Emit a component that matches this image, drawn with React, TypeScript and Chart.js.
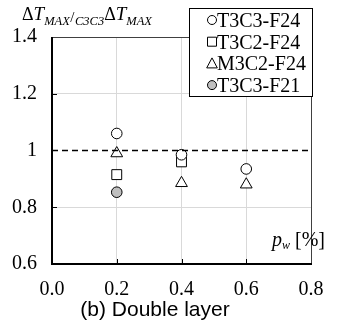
import { useEffect, useRef } from 'react';
import { Chart, registerables } from 'chart.js';
Chart.register(...registerables);

const seriesNames = ['T3C3-F24', 'T3C2-F24', 'M3C2-F24', 'T3C3-F21'];
const t3c3F24X = [0.2, 0.4, 0.6];
const t3c3F24Y = [1.06, 0.985, 0.935];
const t3c2F24X = [0.2, 0.4];
const t3c2F24Y = [0.915, 0.96];
const m3c2F24X = [0.2, 0.4, 0.6];
const m3c2F24Y = [0.99, 0.885, 0.88];
const t3c3F21X = [0.2];
const t3c3F21Y = [0.853];
const xTickValues = [0, 0.2, 0.4, 0.6, 0.8];
const yTickValues = [0.6, 0.8, 1, 1.2, 1.4];
const referenceLevel = 1;
const caption = '(b) Double layer';

const SERIF = '"Liberation Serif", "Times New Roman", serif';
const SANS = '"Liberation Sans", Arial, sans-serif';

const pts = (xs: number[], ys: number[]) => xs.map((x, i) => ({ x, y: ys[i] }));

const markerStyles = [
  { style: 'circle', fill: '#ffffff' },
  { style: 'rect', fill: '#ffffff' },
  { style: 'triangle', fill: '#ffffff' },
  { style: 'circle', fill: '#bfbfbf' },
];

const decorPlugin = {
  id: 'decor',
  afterDraw(chart: any) {
    const ctx = chart.ctx as CanvasRenderingContext2D;
    const a = chart.chartArea;
    const xs = chart.scales.x;
    const ys = chart.scales.y;
    ctx.save();
    // inward tick marks
    ctx.strokeStyle = '#000';
    ctx.lineWidth = 1;
    yTickValues.forEach((v) => {
      if (v === yTickValues[0] || v === yTickValues[yTickValues.length - 1]) return;
      const y = Math.round(ys.getPixelForValue(v)) + 0.5;
      ctx.beginPath();
      ctx.moveTo(a.left, y);
      ctx.lineTo(a.left + 5, y);
      ctx.stroke();
    });
    xTickValues.forEach((v) => {
      if (v === xTickValues[0]) return;
      const x = Math.round(xs.getPixelForValue(v)) + 0.5;
      ctx.beginPath();
      ctx.moveTo(x, a.bottom);
      ctx.lineTo(x, a.bottom - 5);
      ctx.stroke();
    });
    // thin top/right frame
    ctx.strokeStyle = '#404040';
    ctx.lineWidth = 1;
    ctx.beginPath();
    ctx.moveTo(a.left, Math.round(a.top) + 0.5);
    ctx.lineTo(a.right + 0.5, Math.round(a.top) + 0.5);
    ctx.lineTo(a.right + 0.5, a.bottom);
    ctx.stroke();
    // thick left/bottom axes
    ctx.strokeStyle = '#000';
    ctx.lineWidth = 2;
    ctx.beginPath();
    ctx.moveTo(a.left, a.top);
    ctx.lineTo(a.left, a.bottom);
    ctx.lineTo(a.right + 1, a.bottom);
    ctx.stroke();

    // legend
    const lx = 189, ly = 8, lw = 123, lh = 88;
    ctx.fillStyle = '#fff';
    ctx.fillRect(lx, ly, lw, lh);
    ctx.strokeStyle = '#000';
    ctx.lineWidth = 1;
    ctx.strokeRect(lx + 0.5, ly + 0.5, lw, lh);
    ctx.font = `20px ${SERIF}`;
    ctx.fillStyle = '#000';
    ctx.textBaseline = 'alphabetic';
    ctx.textAlign = 'left';
    seriesNames.forEach((name, i) => {
      const base = 27 + i * 21.7;
      const cy = base - 7;
      const cx = 212;
      const m = markerStyles[i];
      ctx.beginPath();
      if (m.style === 'circle') {
        ctx.arc(cx, cy, 4.5, 0, Math.PI * 2);
      } else if (m.style === 'rect') {
        ctx.rect(cx - 4.5, cy - 4.5, 9, 9);
      } else {
        ctx.moveTo(cx, cy - 5.5);
        ctx.lineTo(cx + 5.3, cy + 4.5);
        ctx.lineTo(cx - 5.3, cy + 4.5);
        ctx.closePath();
      }
      ctx.fillStyle = m.fill;
      ctx.fill();
      ctx.strokeStyle = '#000';
      ctx.stroke();
      ctx.fillStyle = '#000';
      ctx.fillText(name, 217, base);
    });

    // y axis title
    const parts: [string, string, number, number][] = [
      ['Δ', `18px ${SERIF}`, 20, 0],
      ['T', `italic 19px ${SERIF}`, 20, 0],
      ['MAX', `italic 12.5px ${SERIF}`, 25, 0.5],
      ['/', `15px ${SERIF}`, 22, 0.5],
      ['C3C3', `italic 12.5px ${SERIF}`, 25, 0],
      ['Δ', `18px ${SERIF}`, 20, 0],
      ['T', `italic 19px ${SERIF}`, 20, 0],
      ['MAX', `italic 12.5px ${SERIF}`, 25, 0],
    ];
    let px = 22;
    parts.forEach(([t, f, b, gap]) => {
      ctx.font = f;
      ctx.fillText(t, px, b);
      px += ctx.measureText(t).width + gap;
    });

    // x axis title
    const xparts: [string, string, number][] = [
      ['p', `italic 20px ${SERIF}`, 246],
      ['w', `italic 12px ${SERIF}`, 249],
      [' [%]', `20px ${SERIF}`, 246],
    ];
    px = 272;
    xparts.forEach(([t, f, b]) => {
      ctx.font = f;
      ctx.fillText(t, px, b);
      px += ctx.measureText(t).width;
    });

    // caption
    ctx.font = `21px ${SANS}`;
    ctx.textAlign = 'center';
    ctx.fillText(caption, 155, 316);
    ctx.restore();
  },
};

export default function App() {
  const ref = useRef<HTMLCanvasElement | null>(null);
  useEffect(() => {
    if (!ref.current) return;
    const mk = (label: string, data: any[], i: number, r: number) => ({
      type: 'scatter' as const,
      label,
      data,
      pointStyle: markerStyles[i].style,
      pointRadius: r,
      pointHoverRadius: r,
      pointBackgroundColor: markerStyles[i].fill,
      pointBorderColor: '#000',
      pointBorderWidth: 1,
      showLine: false,
    });
    const chart = new Chart(ref.current, {
      type: 'scatter',
      data: {
        datasets: [
          {
            type: 'line' as const,
            label: 'ref',
            data: [
              { x: xTickValues[0], y: referenceLevel },
              { x: xTickValues[xTickValues.length - 1], y: referenceLevel },
            ],
            borderColor: '#000',
            borderWidth: 1.5,
            borderDash: [6, 4],
            pointRadius: 0,
            showLine: true,
          } as any,
          mk(seriesNames[0], pts(t3c3F24X, t3c3F24Y), 0, 5.3),
          mk(seriesNames[1], pts(t3c2F24X, t3c2F24Y), 1, 7),
          mk(seriesNames[2], pts(m3c2F24X, m3c2F24Y), 2, 6.8),
          mk(seriesNames[3], pts(t3c3F21X, t3c3F21Y), 3, 5.3),
        ],
      },
      options: {
        animation: false,
        responsive: false,
        layout: { padding: { left: 0, top: 37, right: 28, bottom: 0 } },
        plugins: { legend: { display: false }, tooltip: { enabled: false }, title: { display: false } },
        scales: {
          x: {
            type: 'linear',
            min: xTickValues[0],
            max: xTickValues[xTickValues.length - 1],
            afterBuildTicks: (s: any) => {
              s.ticks = xTickValues.map((v) => ({ value: v }));
            },
            afterFit: (s: any) => {
              s.height = 65;
            },
            ticks: {
              callback: (v: any) => Number(v).toFixed(1),
              font: { family: SERIF, size: 20 },
              color: '#000',
              padding: 14,
              maxRotation: 0,
              autoSkip: false,
            },
            grid: {
              drawTicks: false,
              color: (c: any) => {
                const v = c.tick ? c.tick.value : 0;
                return v > 0.01 && v < 0.79 ? '#d9d9d9' : 'rgba(0,0,0,0)';
              },
            },
            border: { display: false },
          },
          y: {
            type: 'linear',
            min: yTickValues[0],
            max: yTickValues[yTickValues.length - 1],
            afterBuildTicks: (s: any) => {
              s.ticks = yTickValues.map((v) => ({ value: v }));
            },
            afterFit: (s: any) => {
              s.width = 52;
            },
            ticks: {
              callback: (v: any) => String(Math.round(Number(v) * 10) / 10),
              font: { family: SERIF, size: 20 },
              color: '#000',
              padding: 15,
              autoSkip: false,
            },
            grid: {
              drawTicks: false,
              color: (c: any) => {
                const v = c.tick ? c.tick.value : 0;
                return v > 0.61 && v < 1.39 && Math.abs(v - 1) > 0.01 ? '#d9d9d9' : 'rgba(0,0,0,0)';
              },
            },
            border: { display: false },
          },
        },
      },
      plugins: [decorPlugin],
    });
    return () => chart.destroy();
  }, []);
  return (
    <div style={{ position: 'absolute', left: 0, top: 0, width: 339, height: 329 }}>
      <canvas ref={ref} width={339} height={329} style={{ display: 'block', width: 339, height: 329 }} />
    </div>
  );
}
